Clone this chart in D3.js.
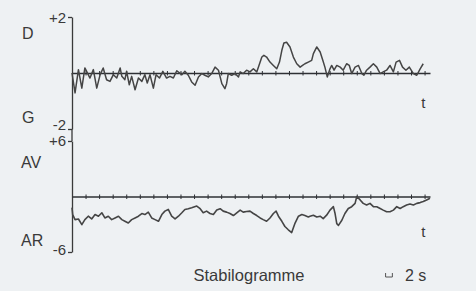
<!DOCTYPE html>
<html>
<head>
<meta charset="utf-8">
<script src="https://cdn.jsdelivr.net/npm/d3@7"></script>
<style>
  html, body { margin: 0; padding: 0; background: #eef1f3; }
  svg { display: block; font-family: "Liberation Sans", Arial, sans-serif; }
</style>
</head>
<body>
<svg id="chart" width="476" height="291"></svg>
<script>
// time (s) of each reading, and lateral sway D/G (cm)
const dTimes = [0, 0.9, 1.9, 2.9, 3.8, 5.3, 6.3, 7.3, 8.3, 9.2, 10.2, 11.2, 12.2, 13.2, 14.2, 14.7,
  15.6, 16.1, 16.9, 17.6, 18.6, 19.6, 20.6, 21.5, 22.2, 23.0, 24.0, 24.8, 25.8, 26.8, 27.9, 28.9,
  29.9, 30.9, 32.4, 33.3, 34.3, 35.3, 36.3, 37.3, 38.3, 39.2, 40.2, 41.2, 42.2, 43.2, 44.2, 45.1,
  45.6, 46.1, 47.1, 48.1, 49.1, 49.6, 50.5, 51.5, 52.5, 53.5, 54.5, 55.5, 56.0, 56.6, 57.4, 58.4,
  59.4, 60.4, 61.2, 61.9, 62.5, 63.3, 64.3, 65.3, 66.3, 67.3, 68.0, 68.7, 69.7, 70.7, 71.2, 72.2,
  73.2, 74.0, 74.6, 75.3, 76.1, 76.6, 77.3, 78.1, 79.1, 80.0, 81.0, 81.8, 82.5, 83.5, 84.5, 85.5,
  86.1, 86.9, 87.9, 88.9, 89.9, 90.9, 91.8, 92.8, 93.8, 94.8, 95.6, 96.6, 97.5, 98.5, 99.5, 100.7,
  101.7, 102.7, 103.6, 104.6, 105.6];
const dValues = [0, -0.71, 0.12, -0.54, 0.18, -0.18, 0.12, -0.54, -0.06, 0.18, -0.24, -0.30, -0.06, -0.18, 0.18,
  -0.12, -0.24, 0.06, -0.42, -0.12, -0.60, -0.18, -0.30, -0.06, -0.36, -0.06, -0.54, -0.06, -0.18, 0.06, -0.18,
  -0.12, -0.18, 0.08, -0.06, 0.06, -0.08, -0.32, -0.44, -0.14, -0.02, -0.08, -0.14, -0.02, 0.21, 0.10,
  -0.38, -0.56, -0.38, -0.02, -0.08, -0.02, -0.14, 0.04, -0.02, 0.10, 0.04, 0.15, 0.04, 0.39, 0.57, 0.63,
  0.57, 0.39, 0.27, 0.15, 0.39, 0.81, 1.07, 1.10, 0.93, 0.57, 0.33, 0.21, 0.27, 0.33, 0.39, 0.45,
  0.69, 0.93, 0.75, 0.45, 0.21, -0.14, 0.15, 0.27, 0.10, 0.27, 0.21, 0.10, 0.33, 0.27, -0.02, 0.21,
  0.27, -0.02, -0.08, 0.10, 0.21, 0.33, 0.21, -0.02, 0.04, 0.10, 0.27, 0.04, 0.39, 0.45, 0.21, 0.10,
  0.21, -0.02, -0.08, 0.15, 0.33];

// antero-posterior sway AV/AR (cm)
const arTimes = [0, 0.2, 0.9, 1.9, 2.9, 3.8, 4.8, 5.8, 6.8, 7.8, 8.8, 9.7, 10.7, 11.7, 12.7, 13.7, 14.7,
  15.6, 16.6, 17.6, 18.6, 19.6, 20.6, 21.5, 22.5, 23.5, 24.5, 25.5, 26.5, 27.4, 28.4, 29.4, 30.4,
  31.4, 32.4, 33.3, 34.3, 35.3, 36.8, 37.8, 38.7, 39.7, 40.7, 41.7, 42.7, 43.7, 44.6, 45.6, 46.6,
  47.6, 48.6, 49.6, 50.5, 51.5, 52.5, 53.5, 54.5, 55.5, 56.4, 57.4, 58.4, 59.4, 60.2, 60.9, 61.9,
  62.8, 63.8, 64.8, 65.8, 66.8, 67.8, 68.7, 69.7, 70.2, 71.2, 72.2, 73.2, 74.1, 75.1, 76.1, 77.1,
  77.6, 78.1, 78.6, 79.6, 80.5, 81.5, 82.5, 83.5, 84.0, 85.0, 85.9, 86.9, 87.9, 88.9, 89.9, 90.9,
  91.8, 92.8, 93.8, 94.8, 95.8, 96.8, 97.7, 98.7, 99.7, 100.7, 101.7, 102.7, 103.6, 104.6, 105.6];
const arValues = [-1.2, -1.95, -2.50, -2.43, -3.05, -2.50, -2.13, -2.43, -1.95, -2.13, -1.76, -2.32, -2.13,
  -2.50, -2.32, -2.13, -2.50, -2.68, -2.87, -2.50, -2.32, -2.13, -1.84, -1.95, -1.69, -2.32, -2.50, -2.68,
  -1.95, -1.58, -1.40, -2.13, -2.43, -2.13, -1.76, -1.40, -1.32, -1.21, -1.03, -1.32, -1.76, -1.58, -1.84,
  -1.95, -1.47, -1.32, -1.58, -1.69, -1.84, -2.06, -1.76, -1.47, -1.69, -1.62, -1.58, -1.84, -2.06, -2.32,
  -2.50, -2.68, -2.32, -1.84, -1.58, -2.13, -2.68, -3.24, -3.60, -3.90, -2.87, -2.13, -1.95, -2.06, -2.21,
  -2.13, -2.02, -2.21, -2.13, -2.39, -2.02, -1.47, -1.10, -1.84, -2.94, -3.12, -2.57, -1.84, -1.29, -1.10,
  -0.74, 0.00, -0.37, -0.74, -0.92, -0.74, -1.10, -1.10, -1.29, -1.47, -1.65, -1.65, -1.47, -1.10, -1.29,
  -1.10, -0.92, -0.81, -0.92, -0.74, -0.66, -0.55, -0.37, -0.18];

const timeTicks = [4, 8, 12, 16, 20, 24, 28, 32, 36, 40, 44, 48, 52, 56, 60, 64, 68, 72, 76, 80, 84, 88, 92, 96, 100, 104];
const dTickLabels = ["-2", "+2"];
const arTickLabels = ["-6", "+6"];

const svg = d3.select("#chart");
const ink = "#3a3a3a";

const x = d3.scaleLinear().domain([0, 105.6]).range([72, 430]);
const yD = d3.scaleLinear().domain([-2, 2]).range([129, 17]);
const yAR = d3.scaleLinear().domain([-6, 6]).range([252, 141]);

// vertical axes; labels nudged a little as in the print
function leftAxis(scale, labels, shifts) {
  const g = svg.append("g").attr("transform", "translate(72,0)")
    .call(d3.axisLeft(scale).tickValues(scale.domain()).tickSize(4).tickSizeOuter(0)
      .tickFormat((d, i) => labels[i]));
  g.select(".domain").attr("stroke", ink).attr("stroke-width", 1.3);
  g.selectAll(".tick line").attr("stroke", ink).attr("stroke-width", 1.3);
  g.selectAll(".tick text")
    .style("font-size", "15px")
    .style("font-family", "'Liberation Sans', Arial, sans-serif")
    .attr("fill", ink).attr("x", -6)
    .attr("y", (d, i) => shifts[i]);
  return g;
}
leftAxis(yD, dTickLabels, [-4.5, 1]);
leftAxis(yAR, arTickLabels, [-2, -0.5]);
// join between the two panels
svg.append("line").attr("x1", 72).attr("x2", 72).attr("y1", yD(-2)).attr("y2", yAR(6))
  .attr("stroke", ink).attr("stroke-width", 1.3);

// time baselines with small crossing ticks
function baseline(yPos) {
  const g = svg.append("g").attr("transform", `translate(0,${yPos})`)
    .call(d3.axisBottom(x).tickValues(timeTicks).tickSize(4).tickSizeOuter(0).tickFormat(""));
  g.select(".domain").attr("stroke", "#2e3034").attr("stroke-width", 1.6);
  g.selectAll(".tick line").attr("stroke", "#2e3034").attr("stroke-width", 1).attr("y1", -2).attr("y2", 2.5);
}
baseline(yD(0));
baseline(yAR(0));

// traces
const lineD = d3.line().x((d, i) => x(dTimes[i])).y(d => yD(d));
const lineAR = d3.line().x((d, i) => x(arTimes[i])).y(d => yAR(d));

svg.append("path").datum(dValues).attr("d", lineD)
  .attr("fill", "none").attr("stroke", "#454545").attr("stroke-width", 1.5).attr("stroke-linejoin", "round");
svg.append("path").datum(arValues).attr("d", lineAR)
  .attr("fill", "none").attr("stroke", "#454545").attr("stroke-width", 1.6).attr("stroke-linejoin", "round");

// direction labels
const lab = svg.append("g").attr("fill", ink).style("font-size", "16px");
lab.append("text").attr("x", 22).attr("y", 39).text("D");
lab.append("text").attr("x", 22).attr("y", 123).text("G");
lab.append("text").attr("x", 21).attr("y", 168).text("AV");
lab.append("text").attr("x", 21).attr("y", 246).text("AR");

// time labels
svg.append("text").attr("x", x(103)).attr("y", 108).attr("fill", ink).style("font-size", "15px").text("t");
svg.append("text").attr("x", x(103)).attr("y", 237).attr("fill", ink).style("font-size", "15px").text("t");

// title
svg.append("text").attr("x", 249).attr("y", 281).attr("text-anchor", "middle")
  .attr("fill", ink).style("font-size", "16.5px").text("Stabilogramme");

// 2 s scale bar
const s0 = x(92.5), s1 = x(94.5);
svg.append("path").attr("d", `M${s0},273V277H${s1}V273`)
  .attr("fill", "none").attr("stroke", "#555").attr("stroke-width", 1);
svg.append("text").attr("x", 405).attr("y", 281).attr("fill", ink).style("font-size", "16px").text("2 s");
</script>
</body>
</html>
